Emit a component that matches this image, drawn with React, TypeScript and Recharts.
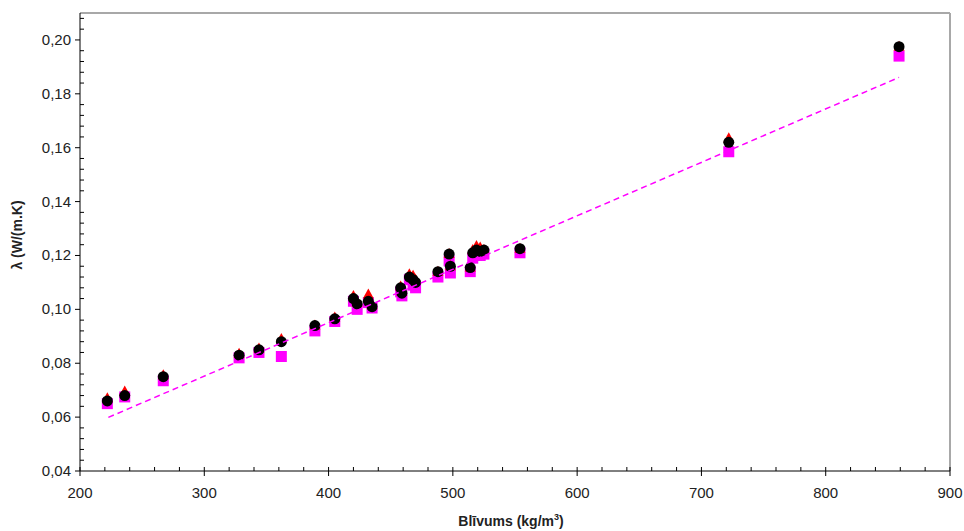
import React from 'react';
import { ScatterChart, Scatter, XAxis, YAxis, ReferenceLine } from 'recharts';

const DENSITY = [222, 236, 267, 328, 344, 362, 389, 405, 420, 423, 432, 435, 458, 459, 465, 468, 470, 488, 497, 498, 514, 516, 519, 522, 525, 554, 722, 859];
const LAMBDA_CIRCLE = [0.066, 0.068, 0.075, 0.083, 0.085, 0.088, 0.094, 0.0965, 0.104, 0.102, 0.103, 0.101, 0.108, 0.106, 0.112, 0.111, 0.110, 0.114, 0.1205, 0.116, 0.1155, 0.121, 0.122, 0.1215, 0.122, 0.1225, 0.162, 0.1975];
const LAMBDA_TRIANGLE = [0.067, 0.0695, 0.0755, 0.0835, 0.0855, 0.089, 0.094, 0.097, 0.105, 0.1025, 0.1055, 0.1015, 0.1085, 0.1065, 0.113, 0.1125, 0.111, 0.114, 0.1205, 0.116, 0.1155, 0.122, 0.1235, 0.123, 0.122, 0.1225, 0.1635, 0.1975];
const LAMBDA_SQUARE = [0.065, 0.0675, 0.0735, 0.082, 0.084, 0.0825, 0.092, 0.0955, 0.103, 0.100, 0.1025, 0.1005, 0.1065, 0.105, 0.111, 0.109, 0.108, 0.112, 0.118, 0.1135, 0.114, 0.119, 0.120, 0.120, 0.1205, 0.121, 0.1585, 0.194];
const TREND_X = [222.8, 859];
const TREND_Y = [0.0599, 0.1861];

const X_TICKS = [200, 220, 240, 260, 280, 300, 320, 340, 360, 380, 400, 420, 440, 460, 480, 500, 520, 540, 560, 580, 600, 620, 640, 660, 680, 700, 720, 740, 760, 780, 800, 820, 840, 860, 880, 900];
const Y_TICKS = [0.04, 0.044, 0.048, 0.052, 0.056, 0.06, 0.064, 0.068, 0.072, 0.076, 0.08, 0.084, 0.088, 0.092, 0.096, 0.1, 0.104, 0.108, 0.112, 0.116, 0.12, 0.124, 0.128, 0.132, 0.136, 0.14, 0.144, 0.148, 0.152, 0.156, 0.16, 0.164, 0.168, 0.172, 0.176, 0.18, 0.184, 0.188, 0.192, 0.196, 0.2, 0.204, 0.208];

const toPts = (ys: number[]) => DENSITY.map((x, i) => ({ x, y: ys[i] }));
const circleData = toPts(LAMBDA_CIRCLE);
const triangleData = toPts(LAMBDA_TRIANGLE);
const squareData = toPts(LAMBDA_SQUARE);
const trendData = TREND_X.map((x, i) => ({ x, y: TREND_Y[i] }));

const FONT = '"Liberation Sans", Arial, sans-serif';

const XTick = (props: any) => {
  const { x, y, payload } = props;
  const v = payload.value;
  const major = Math.round(v) % 100 === 0;
  return (
    <g>
      {major ? (
        <line x1={x} x2={x} y1={y - 4} y2={y + 5} stroke="#000" strokeWidth={1} />
      ) : (
        <line x1={x} x2={x} y1={y} y2={y - 4} stroke="#000" strokeWidth={1} />
      )}
      {major && (
        <text x={x} y={y + 27} textAnchor="middle" fontFamily={FONT} fontSize={15} fill="#222">
          {v}
        </text>
      )}
    </g>
  );
};

const YTick = (props: any) => {
  const { x, y, payload } = props;
  const v = payload.value;
  const major = Math.abs(v * 50 - Math.round(v * 50)) < 1e-6;
  return (
    <g>
      {major ? (
        <line x1={x - 5} x2={x} y1={y} y2={y} stroke="#000" strokeWidth={1} />
      ) : (
        <line x1={x} x2={x + 4} y1={y} y2={y} stroke="#000" strokeWidth={1} />
      )}
      {major && (
        <text x={x - 9} y={y + 5} textAnchor="end" fontFamily={FONT} fontSize={15} fill="#222">
          {v.toFixed(2).replace('.', ',')}
        </text>
      )}
    </g>
  );
};

const CircleShape = (props: any) => {
  const { cx, cy } = props;
  if (cx == null || cy == null) return <g />;
  return <circle cx={cx} cy={cy} r={5.5} fill="#000" />;
};

const SquareShape = (props: any) => {
  const { cx, cy } = props;
  if (cx == null || cy == null) return <g />;
  return <rect x={cx - 5.5} y={cy - 5.5} width={11} height={11} fill="#ff00ff" />;
};

const TriangleShape = (props: any) => {
  const { cx, cy } = props;
  if (cx == null || cy == null) return <g />;
  return <polygon points={`${cx},${cy - 6} ${cx + 5.5},${cy + 4} ${cx - 5.5},${cy + 4}`} fill="#ff0000" />;
};

const NoShape = () => <g />;

const XLabel = (props: any) => {
  const vb = props.viewBox || {};
  const cx = vb.x + vb.width / 2;
  return (
    <text x={cx - 4} y={526} textAnchor="middle" fontFamily={FONT} fontSize={14} fontWeight="bold" fill="#222">
      Blīvums (kg/m<tspan dy={-6} fontSize={9}>3</tspan><tspan dy={6}>)</tspan>
    </text>
  );
};

const YLabel = () => (
  <text
    x={22}
    y={235}
    textAnchor="middle"
    transform="rotate(-90 22 235)"
    fontFamily={FONT}
    fontSize={14}
    fontWeight="bold"
    fill="#222"
  >
    λ (W/(m.K)
  </text>
);

export default function App() {
  return (
    <div style={{ position: 'absolute', left: 0, top: 0, background: '#fff' }}>
      <ScatterChart width={964} height={531} margin={{ top: 13, right: 14, bottom: 0, left: 0 }}>
        <XAxis
          type="number"
          dataKey="x"
          domain={[200, 900]}
          ticks={X_TICKS}
          interval={0}
          tickLine={false}
          tickSize={0}
          tickMargin={0}
          tick={<XTick />}
          axisLine={{ stroke: '#000', strokeWidth: 1 }}
          height={60}
          allowDataOverflow
          label={<XLabel />}
        />
        <YAxis
          type="number"
          dataKey="y"
          domain={[0.04, 0.21]}
          ticks={Y_TICKS}
          interval={0}
          tickLine={false}
          tickSize={0}
          tickMargin={0}
          tick={<YTick />}
          axisLine={{ stroke: '#000', strokeWidth: 1 }}
          width={80}
          allowDataOverflow
          label={<YLabel />}
        />
        <ReferenceLine y={0.21} stroke="#a8a8a8" strokeWidth={2} />
        <ReferenceLine x={900} stroke="#a8a8a8" strokeWidth={2} />
        <Scatter data={squareData} shape={<SquareShape />} isAnimationActive={false} />
        <Scatter data={triangleData} shape={<TriangleShape />} isAnimationActive={false} />
        <Scatter data={circleData} shape={<CircleShape />} isAnimationActive={false} />
        <Scatter
          data={trendData}
          shape={<NoShape />}
          line={{ stroke: '#ff00ff', strokeWidth: 1.5, strokeDasharray: '6 4' }}
          isAnimationActive={false}
        />
      </ScatterChart>
    </div>
  );
}
